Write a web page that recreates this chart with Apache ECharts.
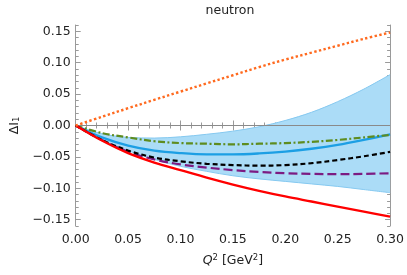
<!DOCTYPE html>
<html><head><meta charset="utf-8">
<script src="https://cdn.jsdelivr.net/npm/echarts@6/dist/echarts.min.js"></script>
<style>html,body{margin:0;padding:0;background:#fff}#c{width:407px;height:275px}</style>
</head><body><div id="c"></div>
<script>
const q2        = [0, 0.025, 0.05, 0.075, 0.1, 0.125, 0.15, 0.175, 0.2, 0.225, 0.25, 0.275, 0.3];
const orange    = [0, 0.0138, 0.0275, 0.0408, 0.054, 0.067, 0.080, 0.093, 0.105, 0.116, 0.127, 0.138, 0.148];
const red       = [0, -0.024, -0.044, -0.059, -0.071, -0.083, -0.094, -0.104, -0.113, -0.121, -0.129, -0.137, -0.145];
const blue      = [0, -0.019, -0.032, -0.040, -0.044, -0.046, -0.046, -0.0445, -0.0415, -0.037, -0.031, -0.023, -0.014];
const green     = [0, -0.012, -0.019, -0.025, -0.028, -0.029, -0.030, -0.029, -0.028, -0.026, -0.023, -0.019, -0.015];
const black     = [0, -0.023, -0.040, -0.051, -0.057, -0.061, -0.063, -0.064, -0.063, -0.060, -0.055, -0.049, -0.042];
const purple    = [0, -0.023, -0.042, -0.054, -0.062, -0.067, -0.071, -0.074, -0.076, -0.077, -0.0775, -0.077, -0.076];
const bandUpper = [0, -0.013, -0.019, -0.020, -0.018, -0.014, -0.009, -0.002, 0.008, 0.021, 0.038, 0.058, 0.081];
const bandLower = [0, -0.022, -0.040, -0.054, -0.065, -0.073, -0.080, -0.085, -0.089, -0.093, -0.097, -0.102, -0.107];
const xTicks = [0, 0.05, 0.10, 0.15, 0.20, 0.25, 0.30];
const yTicks = [-0.15, -0.10, -0.05, 0, 0.05, 0.10, 0.15];

const pairs = (ys) => q2.map((x, i) => [x, ys[i]]);
const yMinor = [];
for (let k = -16; k <= 16; k++) if (k % 5 !== 0) yMinor.push(k / 100);

const FONT = 'DejaVu Sans';
const AX = '#9a9a9a';
const fmt = (v) => { const s = (+v).toFixed(2); return s.replace('-', '\u2212'); };

const baseX = {
  type: 'value', min: xTicks[0], max: xTicks[xTicks.length - 1], interval: 0.05,
  axisLine: { show: true, lineStyle: { color: AX, width: 1 } },
  axisTick: { show: true, inside: true, length: 5, lineStyle: { color: AX } },
  minorTick: { show: true, splitNumber: 5, length: 3, lineStyle: { color: AX } },
  splitLine: { show: false }, minorSplitLine: { show: false }
};
const baseY = {
  type: 'value', min: -0.16, max: 0.16,
  axisLine: { show: false }, splitLine: { show: false }
};

const chart = echarts.init(document.getElementById('c'), null, { renderer: 'canvas' });
const lineSeries = (ys, color, type, z, w) => ({
  type: 'line', data: pairs(ys), symbol: 'none', smooth: 0.35, z: z,
  lineStyle: { color: color, width: w || 2, type: type, cap: 'butt' }
});

chart.setOption({
  animation: false,
  grid: { left: 68, right: 15, top: 25, bottom: 49, containLabel: false },
  graphic: [{
    type: 'text', x: 230, y: 10.5,
    style: { text: 'neutron', font: '12.5px "' + FONT + '"', fill: '#222', textAlign: 'center', textVerticalAlign: 'middle' }
  }],
  xAxis: [
    Object.assign({}, baseX, {
      position: 'bottom',
      axisLabel: { show: true, margin: 7, fontFamily: FONT, fontSize: 12.5, color: '#222', formatter: fmt },
      name: '{i|Q}{sp|2} [GeV{sp|2}]', nameLocation: 'middle', nameGap: 27,
      nameTextStyle: {
        fontFamily: FONT, fontSize: 12.5, color: '#222',
        rich: {
          i: { fontFamily: FONT, fontSize: 12.5, fontStyle: 'italic', color: '#222' },
          sp: { fontFamily: FONT, fontSize: 8.5, color: '#222', padding: [0, 0, 7, 0] }
        }
      }
    }),
    Object.assign({}, baseX, { position: 'top', axisLabel: { show: false } })
  ],
  yAxis: [
    Object.assign({}, baseY, {
      position: 'left',
      axisLine: { show: true, lineStyle: { color: AX, width: 1 } },
      axisTick: { show: true, inside: true, length: 5, customValues: yTicks, lineStyle: { color: AX } },
      axisLabel: { show: true, margin: 5, customValues: yTicks, fontFamily: FONT, fontSize: 12.5, color: '#222', formatter: fmt },
      name: '{a|\u0394I}{s|1}', nameLocation: 'middle', nameRotate: 90, nameGap: 50,
      nameTextStyle: {
        fontFamily: FONT, fontSize: 12.5, color: '#222',
        rich: {
          a: { fontFamily: FONT, fontSize: 12.5, color: '#222' },
          s: { fontFamily: FONT, fontSize: 8.5, color: '#222', padding: [5, 0, 0, 0] }
        }
      }
    }),
    Object.assign({}, baseY, {
      position: 'left',
      axisTick: { show: true, inside: true, length: 3, customValues: yMinor, lineStyle: { color: AX } },
      axisLabel: { show: false }
    }),
    Object.assign({}, baseY, {
      position: 'right',
      axisLine: { show: true, lineStyle: { color: AX, width: 1 } },
      axisTick: { show: true, inside: true, length: 5, customValues: yTicks, lineStyle: { color: AX } },
      axisLabel: { show: false }
    }),
    Object.assign({}, baseY, {
      position: 'right',
      axisTick: { show: true, inside: true, length: 3, customValues: yMinor, lineStyle: { color: AX } },
      axisLabel: { show: false }
    })
  ],
  series: [
    {
      type: 'custom', z: 1, clip: true,
      data: q2.map((x, i) => [x, bandUpper[i], bandLower[i]]),
      encode: { x: 0, y: [1, 2] },
      renderItem: function (params, api) {
        if (params.dataIndex !== 0) return;
        const pts = [];
        for (let i = 0; i < q2.length; i++) pts.push(api.coord([q2[i], bandUpper[i]]));
        for (let i = q2.length - 1; i >= 0; i--) pts.push(api.coord([q2[i], bandLower[i]]));
        return { type: 'polygon', shape: { points: pts }, style: { fill: '#abdcf7', stroke: null } };
      }
    },
    {
      type: 'line', data: pairs(bandUpper), symbol: 'none', smooth: 0.35, z: 2,
      lineStyle: { color: '#86c9f0', width: 1 },
      markLine: {
        silent: true, symbol: 'none', label: { show: false },
        lineStyle: { color: '#8a8a8a', width: 1, type: 'solid' },
        data: [{ yAxis: 0 }]
      }
    },
    { type: 'line', data: pairs(bandLower), symbol: 'none', smooth: 0.35, z: 2, lineStyle: { color: '#86c9f0', width: 1 } },
    lineSeries(blue, '#1c9fe4', 'solid', 3, 2.3),
    lineSeries(green, '#5e8c1f', [7, 2.5, 2, 2.5], 4, 2.2),
    lineSeries(purple, '#7c1b82', [9, 4], 5, 2.2),
    lineSeries(black, '#000000', [5, 3], 6, 2.2),
    lineSeries(red, '#ff0000', 'solid', 7, 2.3),
    lineSeries(orange, '#ff6a1f', [2.4, 2.4], 8, 2.4)
  ]
});
</script>
</body></html>
